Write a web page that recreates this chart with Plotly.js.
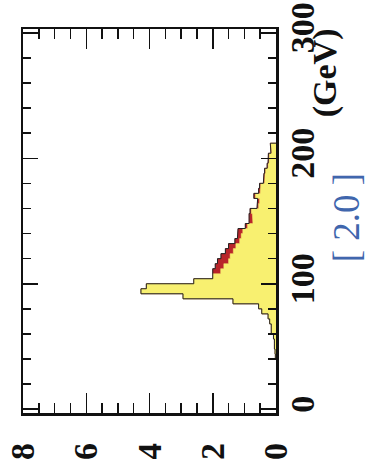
<!DOCTYPE html>
<html>
<head>
<meta charset="utf-8">
<script src="https://cdn.plot.ly/plotly-3.0.1.min.js"></script>
<style>html,body{margin:0;padding:0;background:#fff;}#chart{width:372px;height:459px;}</style>
</head>
<body>
<div id="chart"></div>
<script>
// Histogram bin lower edges (GeV), bin width 4 GeV
var binLow = [40,44,48,52,56,60,64,68,72,76,80,84,88,92,96,100,104,108,112,116,120,124,128,132,136,140,144,148,152,156,160,164,168,172,176,180,184,188,192,196,200,204,208];
var binWidth = 4;
// total events per bin (yellow + red)
var totalCounts = [0.02,0.03,0.05,0.05,0.08,0.15,0.15,0.2,0.25,0.45,0.55,1.36,2.94,4.27,4.1,2.6,2.0,2.0,1.92,1.85,1.74,1.6,1.5,1.3,1.22,1.2,0.97,0.85,0.85,0.82,0.6,0.58,0.7,0.55,0.52,0.4,0.38,0.36,0.28,0.25,0.24,0.16,0.18];
// yellow component per bin
var yellowCounts = [0.02,0.03,0.05,0.05,0.08,0.15,0.15,0.2,0.25,0.45,0.55,1.36,2.94,4.27,4.1,2.6,2.0,1.75,1.65,1.5,1.45,1.35,1.27,1.15,1.1,1.05,0.9,0.73,0.75,0.78,0.55,0.52,0.65,0.5,0.48,0.36,0.35,0.33,0.25,0.22,0.21,0.14,0.16];
var countTicks = [0,2,4,6,8];
var massTicks = [0,100,200,300];

function stepPath(counts){
  var xs=[0], ys=[binLow[0]];
  for (var i=0;i<binLow.length;i++){
    xs.push(counts[i]); ys.push(binLow[i]);
    xs.push(counts[i]); ys.push(binLow[i]+binWidth);
  }
  xs.push(0); ys.push(binLow[binLow.length-1]+binWidth);
  return {x:xs,y:ys};
}
var tot = stepPath(totalCounts), yel = stepPath(yellowCounts);

var traces = [
  {x:tot.x,y:tot.y,type:'scatter',mode:'lines',fill:'toself',fillcolor:'#b9252a',line:{color:'#b9252a',width:0.5},hoverinfo:'skip'},
  {x:yel.x,y:yel.y,type:'scatter',mode:'lines',fill:'toself',fillcolor:'#f8f070',line:{color:'#f8f070',width:0.5},hoverinfo:'skip'},
  {x:tot.x,y:tot.y,type:'scatter',mode:'lines',line:{color:'#222',width:1},hoverinfo:'skip'}
];

var tickFont = {family:'Liberation Serif', size:34, color:'#111', weight:'bold'};
var layout = {
  width:372, height:459,
  margin:{l:23,r:96,t:29,b:46},
  paper_bgcolor:'#fff', plot_bgcolor:'#fff',
  showlegend:false,
  xaxis:{range:[8,0], tickvals:countTicks, ticktext:countTicks.map(String), ticks:'inside', ticklen:20, tickwidth:1.5, tickcolor:'#111',
    showline:true, linewidth:2.5, linecolor:'#111', mirror:'ticks', showgrid:false, zeroline:false, automargin:false,
    minor:{dtick:0.5, tick0:0, ticks:'inside', ticklen:10, tickwidth:1.5, tickcolor:'#111', showgrid:false},
    tickangle:-90, tickfont:tickFont, ticklabelstandoff:14},
  yaxis:{range:[-3,303], side:'right', tickvals:massTicks, ticktext:massTicks.map(String), ticks:'inside', ticklen:15, tickwidth:1.5, tickcolor:'#111',
    showline:true, linewidth:2.5, linecolor:'#111', mirror:'ticks', showgrid:false, zeroline:false, automargin:false,
    minor:{dtick:20, tick0:0, ticks:'inside', ticklen:8, tickwidth:1.5, tickcolor:'#111', showgrid:false},
    tickangle:-90, tickfont:tickFont, ticklabelstandoff:-5},
  annotations:[
    {text:'(GeV)', xref:'paper', yref:'paper', x:1.194, y:0.885, showarrow:false, textangle:-90,
     font:{family:'Liberation Serif', size:34, color:'#111', weight:'bold'}, xanchor:'center', yanchor:'middle'},
    {text:'[ 2.0 ]', xref:'paper', yref:'paper', x:1.282, y:0.508, showarrow:false, textangle:-90,
     font:{family:'Liberation Serif', size:37, color:'#4066ad'}, xanchor:'center', yanchor:'middle', borderpad:0}
  ]
};
Plotly.newPlot('chart', traces, layout, {staticPlot:true, displayModeBar:false});
</script>
</body>
</html>
